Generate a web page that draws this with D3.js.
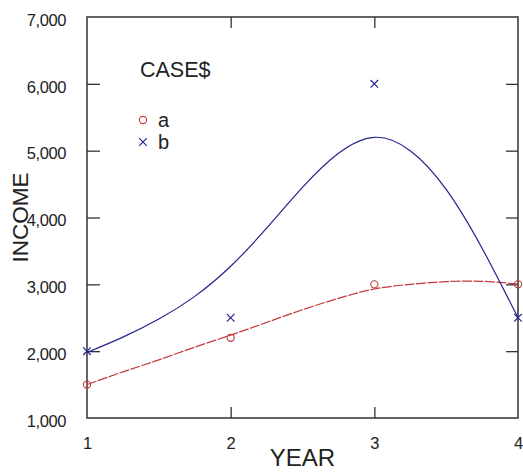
<!DOCTYPE html>
<html>
<head>
<meta charset="utf-8">
<script src="https://cdn.jsdelivr.net/npm/d3@7"></script>
<style>
  html, body { margin: 0; padding: 0; background: #fff; }
  svg { display: block; font-family: Arial, "Liberation Sans", sans-serif; }
</style>
</head>
<body>
<svg id="chart" width="523" height="473"></svg>
<script>
// ---- data ----
const years = [1, 2, 3, 4];
const incomeA = [1500, 2200, 3000, 3000];
const incomeB = [2000, 2500, 6000, 2500];
const seriesNames = ["a", "b"];
// smoothed fit curves
const fitYears = [1, 1.25, 1.5, 1.75, 2, 2.25, 2.5, 2.75, 3, 3.25, 3.5, 3.75, 4];
const fitA = [1500, 1690, 1870, 2060, 2240, 2430, 2620, 2790, 2930, 3000, 3040, 3045, 3005];
const fitB = [1980, 2210, 2480, 2820, 3270, 3840, 4450, 4960, 5200, 5000, 4420, 3540, 2500];
const yTicks = [1000, 2000, 3000, 4000, 5000, 6000, 7000];
const xTicks = [1, 2, 3, 4];
const legendTitle = "CASE$";
const xTitle = "YEAR";
const yTitle = "INCOME";

// ---- layout ----
const svg = d3.select("#chart");
const L = 87, R = 518, T = 17, B = 418;
const x = d3.scaleLinear().domain([1, 4]).range([L, R]);
const y = d3.scaleLinear().domain([1000, 7000]).range([B, T]);
const colA = "#c23a3a", colB = "#22228c", axisCol = "#333";
const fmt = d3.format(",");

// frame
svg.append("rect").attr("x", L).attr("y", T).attr("width", R - L).attr("height", B - T)
  .attr("fill", "none").attr("stroke", axisCol).attr("stroke-width", 1.5);

// left axis with labels (ticks inward)
const yAxisL = svg.append("g").attr("transform", `translate(${L},0)`)
  .call(d3.axisLeft(y).tickValues(yTicks).tickFormat(fmt).tickSizeInner(-13).tickSizeOuter(0).tickPadding(21));
yAxisL.select(".domain").remove();
yAxisL.selectAll("line").attr("stroke", axisCol).attr("stroke-width", 1.3)
  .filter(d => d === 1000 || d === 7000).remove();
yAxisL.selectAll("text").attr("font-size", 16.5).attr("fill", "#222").attr("dy", "0.5em")
  .attr("font-family", "Arial, 'Liberation Sans', sans-serif").attr("letter-spacing", "-0.4");

// right axis ticks inward
const yAxisR = svg.append("g").attr("transform", `translate(${R},0)`)
  .call(d3.axisRight(y).tickValues(yTicks.filter(d => d !== 1000 && d !== 7000)).tickFormat("").tickSizeInner(-12).tickSizeOuter(0));
yAxisR.select(".domain").remove();
yAxisR.selectAll("line").attr("stroke", axisCol).attr("stroke-width", 1.3);

// bottom axis
const xAxisB = svg.append("g").attr("transform", `translate(0,${B})`)
  .call(d3.axisBottom(x).tickValues(xTicks).tickFormat(d3.format("d")).tickSizeInner(-11).tickSizeOuter(0).tickPadding(19));
xAxisB.select(".domain").remove();
xAxisB.selectAll("line").attr("stroke", axisCol).attr("stroke-width", 1.3)
  .filter(d => d === 1 || d === 4).remove();
xAxisB.selectAll("text").attr("font-size", 16.5).attr("fill", "#222")
  .attr("font-family", "Arial, 'Liberation Sans', sans-serif");

// top axis ticks inward
const xAxisT = svg.append("g").attr("transform", `translate(0,${T})`)
  .call(d3.axisTop(x).tickValues(xTicks.filter(d => d !== 1 && d !== 4)).tickFormat("").tickSizeInner(-11).tickSizeOuter(0));
xAxisT.select(".domain").remove();
xAxisT.selectAll("line").attr("stroke", axisCol).attr("stroke-width", 1.3);

// titles
svg.append("text").attr("x", (L + R) / 2).attr("y", 466).attr("text-anchor", "middle")
  .attr("font-size", 24).attr("fill", "#222").text(xTitle);
svg.append("text").attr("transform", `translate(28,${(T + B) / 2}) rotate(-90)`)
  .attr("text-anchor", "middle").attr("font-size", 22.5).attr("fill", "#222").text(yTitle);

// fit curves
const line = d3.line().x(d => x(d[0])).y(d => y(d[1])).curve(d3.curveNatural);
svg.append("path").datum(fitYears.map((v, i) => [v, fitA[i]])).attr("d", line)
  .attr("fill", "none").attr("stroke", colA).attr("stroke-width", 1.2).attr("stroke-dasharray", "10,1.5");
svg.append("path").datum(fitYears.map((v, i) => [v, fitB[i]])).attr("d", line)
  .attr("fill", "none").attr("stroke", colB).attr("stroke-width", 1.2);

// points
svg.append("g").selectAll("circle").data(years.map((v, i) => [v, incomeA[i]])).join("circle")
  .attr("cx", d => x(d[0])).attr("cy", d => y(d[1])).attr("r", 3.6)
  .attr("fill", "none").attr("stroke", colA).attr("stroke-width", 1.1);
const cross = (g, cx, cy, s, c) => {
  g.append("path").attr("d", `M${cx - s},${cy - s}L${cx + s},${cy + s}M${cx - s},${cy + s}L${cx + s},${cy - s}`)
    .attr("stroke", c).attr("stroke-width", 1.2).attr("fill", "none");
};
const gb = svg.append("g");
years.forEach((v, i) => cross(gb, x(v), y(incomeB[i]), 3.8, colB));

// legend
svg.append("text").attr("x", 140).attr("y", 77).attr("font-size", 21.5).attr("fill", "#222").text(legendTitle);
const legRows = [{ name: seriesNames[0], col: colA, yc: 120 }, { name: seriesNames[1], col: colB, yc: 142 }];
legRows.forEach((r, i) => {
  if (i === 0) {
    svg.append("circle").attr("cx", 143).attr("cy", r.yc).attr("r", 3.6)
      .attr("fill", "none").attr("stroke", r.col).attr("stroke-width", 1.1);
  } else {
    cross(svg, 143, r.yc, 3.8, r.col);
  }
  svg.append("text").attr("x", 158).attr("y", r.yc + 6.5).attr("font-size", 20).attr("fill", "#222").text(r.name);
});
</script>
</body>
</html>
